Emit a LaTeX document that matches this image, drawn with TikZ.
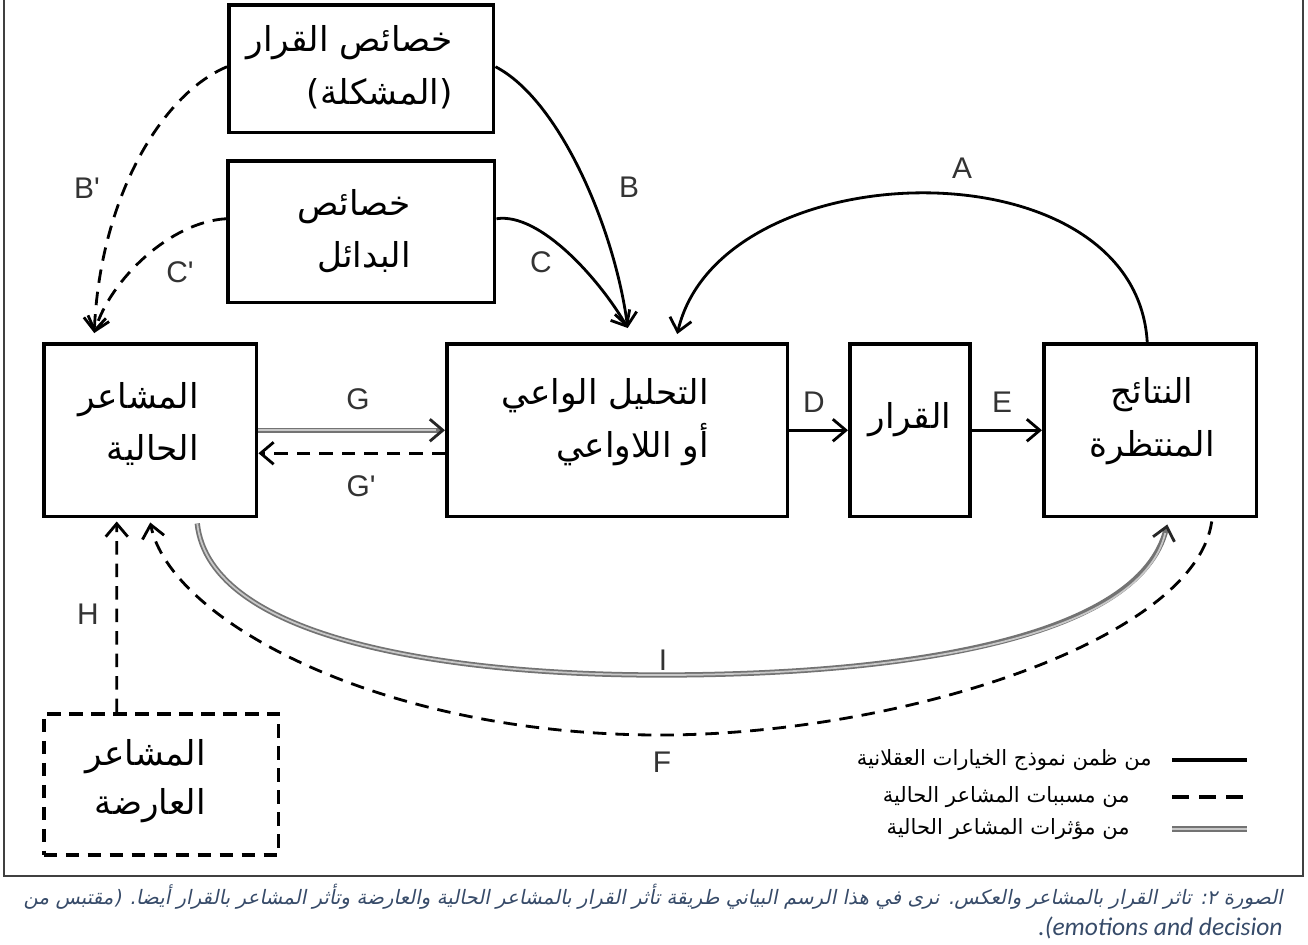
\documentclass[tikz,border=0pt]{standalone}
\usepackage{fontspec}
\usetikzlibrary{arrows.meta,calc}
\TeXXeTstate=1
\newfontfamily\arabicfont[Script=Arabic]{DejaVu Sans}
\newfontfamily\capfont[Script=Arabic,FakeSlant=0.2]{DejaVu Sans}
\newfontfamily\labfont{Liberation Sans}
\newfontfamily\caplatin{Carlito}
\definecolor{capcol}{RGB}{55,75,105}
\definecolor{dgray}{RGB}{115,115,115}
\definecolor{lgray}{RGB}{200,200,200}
\begin{document}
\begin{tikzpicture}[x=0.02cm,y=-0.02cm,
  box/.style={draw, line width=2pt, inner sep=0pt, anchor=north west},
  dbox/.style={box, dash pattern=on 0.27cm off 0.17cm},
  atxt/.style={font=\arabicfont\fontsize{19.5}{30}\selectfont, inner sep=0pt},
  lab/.style={font=\labfont\fontsize{17}{20}\selectfont, text=black!80, inner sep=0pt},
  tip/.style={-{Straight Barb[length=0.26cm,width=0.44cm,line width=1.6pt]}},
  conn/.style={line width=1.6pt, tip},
  dsh/.style={conn, dash pattern=on 0.27cm off 0.18cm},
  dblout/.style={line width=3pt, draw=dgray, -{Straight Barb[length=0.26cm,width=0.44cm,line width=1.6pt,color=black!85]}},
  dblin/.style={line width=1pt, draw=lgray, shorten >=5pt},
  legtxt/.style={font=\arabicfont\fontsize{12}{14}\selectfont, inner sep=0pt, anchor=east}
]
\useasboundingbox (0,0) rectangle (1308,944);
\fill[white] (0,0) rectangle (1308,944);
% frame
\draw[line width=1.1pt, black!75] (4,0) -- (4,876) -- (1303,876) -- (1303,0);

% boxes
\node[box, minimum width=5.30cm, minimum height=2.56cm] (dec) at (227,3) {};
\node[box, minimum width=5.34cm, minimum height=2.84cm] (alt) at (226,159) {};
\node[box, minimum width=4.26cm, minimum height=3.46cm] (emo) at (42,342) {};
\node[box, minimum width=6.82cm, minimum height=3.46cm] (ana) at (445,342) {};
\node[box, minimum width=2.40cm, minimum height=3.46cm] (dcs) at (848,342) {};
\node[box, minimum width=4.26cm, minimum height=3.46cm] (res) at (1042,342) {};
\node[dbox, minimum width=4.70cm, minimum height=2.82cm] (inc) at (42,712) {};

% box texts
\node[atxt, anchor=east, align=right] (dect) at (453,67) {\beginR خصائص القرار\endR\\\beginR(المشكلة)\endR};
\node[atxt, anchor=east, align=right] (altt) at (411,231) {\beginR خصائص\endR\\\beginR البدائل\endR};
\node[atxt, anchor=east, align=right] (emot) at (199,424) {\beginR المشاعر\endR\\\beginR الحالية\endR};
\node[atxt, anchor=east, align=right] (anat) at (709,422) {\beginR التحليل الواعي\endR\\\beginR أو اللاواعي\endR};
\node[atxt] (dcst) at (910,420) {\beginR القرار\endR};
\node[atxt, align=center] (rest) at (1152,421) {\beginR النتائج\endR\\\beginR المنتظرة\endR};
\node[atxt, anchor=east, align=right, font=\arabicfont\fontsize{19.5}{28}\selectfont] (inct) at (206,781) {\beginR المشاعر\endR\\\beginR العارضة\endR};

% connectors
\draw[conn] ($(res.north)+(-3,0)$) .. controls (1135,140) and (720,150) .. ($(ana.north)+(60,-8)$);
\draw[conn] ($(dec.east)+(0,-2)$) .. controls (560,100) and (615,230) .. ($(ana.north)+(10.5,-14)$);
\draw[conn] ($(alt.east)+(0,-13)$) .. controls (540,212) and (600,280) .. ($(ana.north)+(10.5,-14)$);
\draw[dsh] ($(dec.west)+(0,-2)$) .. controls (160,95) and (100,200) .. ($(emo.north)+(-56,-9)$);
\draw[dsh] ($(alt.west)+(0,-13)$) .. controls (170,222) and (110,280) .. ($(emo.north)+(-56,-9)$);
\draw[conn] (ana.east) -- (dcs.west);
\draw[conn] (dcs.east) -- (res.west);
\draw[dblout] (emo.east) -- (ana.west);
\draw[dblin] (emo.east) -- (ana.west);
\draw[dsh] ($(ana.west)+(0,23)$) -- ($(emo.east)+(0,23)$);
\draw[dsh] ($(inc.north)+(-44.5,0)$) -- ($(emo.south)+(-33.5,3)$);
\coordinate (fbot) at (660,735);
\coordinate (ibot) at (660,675);
\draw[dsh] ($(res.south)+(61.5,3)$) .. controls (1195,640) and (900,735) .. (fbot) .. controls (380,735) and (170,620) .. ($(emo.south)+(0,4)$);
\draw[dblout] ($(emo.south)+(47,5)$) .. controls (210,640) and (450,675) .. (ibot) .. controls (900,675) and (1140,640) .. ($(res.south)+(17,6)$);
\draw[dblin] ($(emo.south)+(47,5)$) .. controls (210,640) and (450,675) .. (ibot) .. controls (900,675) and (1140,640) .. ($(res.south)+(17,6)$);

% labels
\node[lab] (la) at (962,168) {A};
\node[lab] (lb) at (629,187) {B};
\node[lab] (lc) at (541,262) {C};
\node[lab] (lbp) at (87,188) {B'};
\node[lab] (lcp) at (180,272) {C'};
\node[lab] (lg) at (358,399) {G};
\node[lab] (lgp) at (361,486) {G'};
\node[lab] (ld) at (814,402) {D};
\node[lab] (le) at (1002,402) {E};
\node[lab] (lh) at (88,614) {H};
\node[lab] (li) at (663,660) {I};
\node[lab] (lf) at (662,762) {F};

% legend
\coordinate (l1a) at (1172,760); \coordinate (l1b) at (1247,760);
\coordinate (l2a) at (1172,797); \coordinate (l2b) at (1245,797);
\coordinate (l3a) at (1172,829); \coordinate (l3b) at (1247,829);
\draw[line width=2.3pt] (l1a) -- (l1b);
\draw[line width=2.3pt, dash pattern=on 0.34cm off 0.2cm] (l2a) -- (l2b);
\draw[line width=3pt, dgray] (l3a) -- (l3b);
\draw[line width=1pt, lgray] (l3a) -- (l3b);
\node[legtxt] (lt1) at (1152,760) {\beginR من ظمن نموذج الخيارات العقلانية\endR};
\node[legtxt] (lt2) at (1130,797) {\beginR من مسببات المشاعر الحالية\endR};
\node[legtxt] (lt3) at (1130,829) {\beginR من مؤثرات المشاعر الحالية\endR};

% caption
\node[anchor=east, inner sep=0pt, text=capcol, font=\capfont\fontsize{11.3}{13}\selectfont] (cap1) at (1283,897) {\beginR الصورة ٢: تاثر القرار بالمشاعر والعكس. نرى في هذا الرسم البياني طريقة تأثر القرار بالمشاعر الحالية والعارضة وتأثر المشاعر بالقرار أيضا. (مقتبس من\endR};
\node[anchor=east, inner sep=0pt, text=capcol, font=\caplatin\itshape\fontsize{14.5}{16}\selectfont] (cap2) at (1283,928) {.(emotions and decision};
\end{tikzpicture}
\end{document}
